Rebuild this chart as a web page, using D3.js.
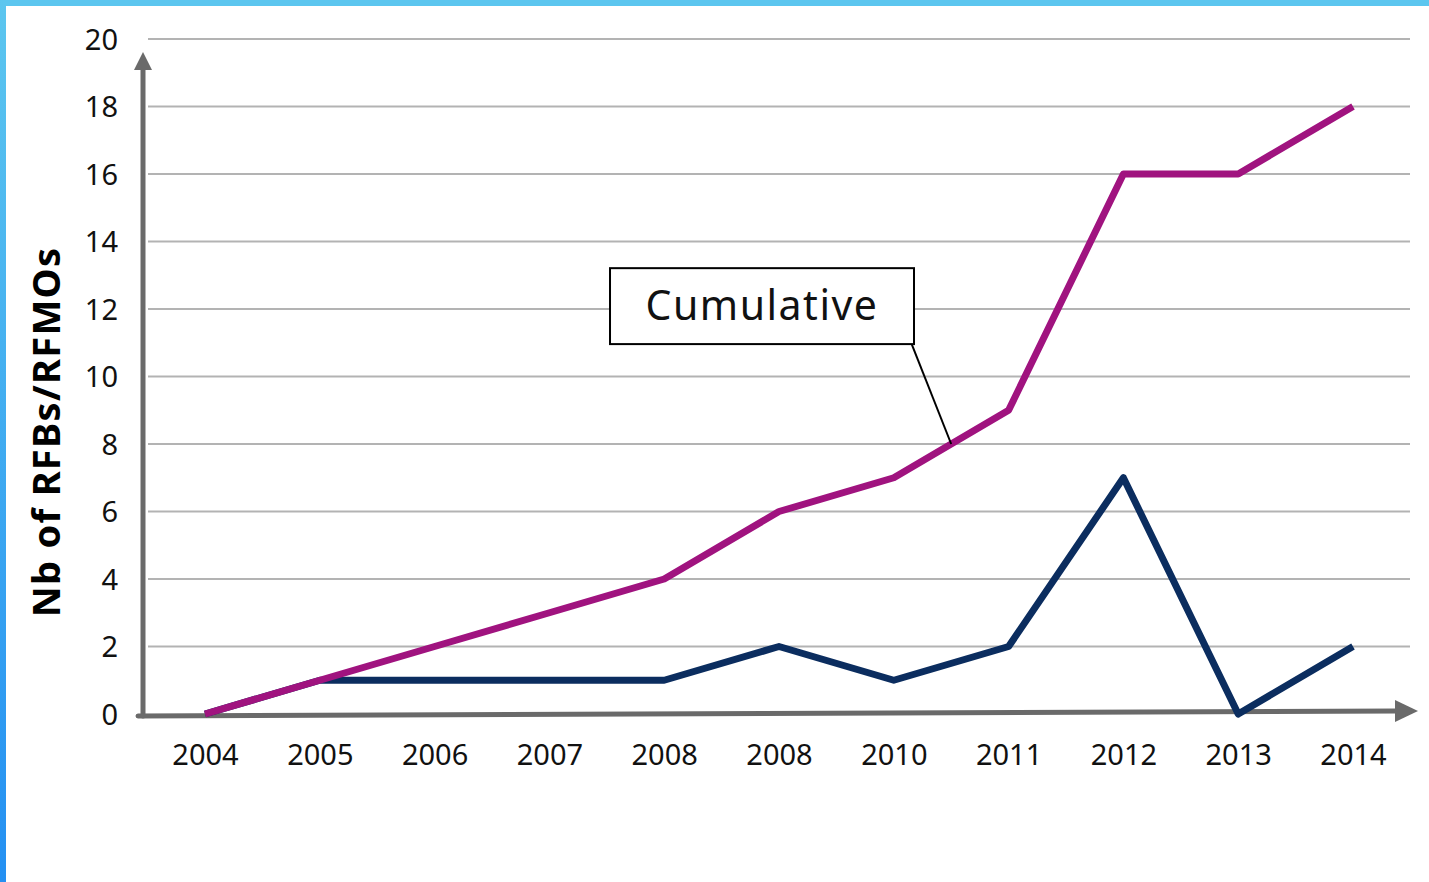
<!DOCTYPE html>
<html><head><meta charset="utf-8">
<script src="https://cdn.jsdelivr.net/npm/d3@7"></script>
<style>
html,body{margin:0;padding:0;background:#fff;}
svg{display:block;}
</style></head>
<body>
<script>
const categories = ["2004","2005","2006","2007","2008","2008","2010","2011","2012","2013","2014"];
const cumulative = [0,1,2,3,4,6,7,9,16,16,18];
const annual = [0,1,1,1,1,2,1,2,7,0,2];
const yTicks = [0,2,4,6,8,10,12,14,16,18,20];
const yTitle = "Nb of RFBs/RFMOs";
const annotationText = "Cumulative";

const W = 1429, H = 882;
const svg = d3.select("body").append("svg").attr("width", W).attr("height", H);
const defs = svg.append("defs");
const lg = defs.append("linearGradient").attr("id","lb").attr("x1",0).attr("y1",0).attr("x2",0).attr("y2",1);
lg.append("stop").attr("offset","0").attr("stop-color","#5cc6ef");
lg.append("stop").attr("offset","1").attr("stop-color","#2490f2");

svg.append("rect").attr("x",0).attr("y",0).attr("width",W).attr("height",6).attr("fill","#5cc6ef");
svg.append("rect").attr("x",0).attr("y",0).attr("width",6).attr("height",H).attr("fill","url(#lb)");

const font = "'Noto Sans', 'DejaVu Sans', sans-serif";
const idx = d3.range(categories.length);
const x = d3.scalePoint().domain(idx).range([205, 1353]);
const xl = d3.scaleLinear().domain([0, categories.length-1]).range([205,1353]);
const y = d3.scaleLinear().domain([0,20]).range([714, 39]);

// gridlines
svg.append("g").selectAll("line").data(yTicks.filter(d=>d>0)).join("line")
  .attr("x1",148).attr("x2",1410).attr("y1",d=>y(d)).attr("y2",d=>y(d))
  .attr("stroke","#b3b3b3").attr("stroke-width",2);

// y tick labels
const yAxis = d3.axisLeft(y).tickValues(yTicks).tickSize(0).tickPadding(0);
const gy = svg.append("g").attr("transform","translate(118,0)").call(yAxis);
gy.select(".domain").remove();
gy.selectAll("text").attr("font-family",font).attr("font-size",29).attr("fill","#111").attr("dy","0.35em");

// x tick labels
const xAxis = d3.axisBottom(x).tickFormat(i=>categories[i]).tickSize(0).tickPadding(0);
const gx = svg.append("g").attr("transform","translate(0,755)").call(xAxis);
gx.select(".domain").remove();
gx.selectAll("text").attr("font-family",font).attr("font-size",29).attr("fill","#111").attr("dy","0.35em");

// axes lines with arrows
const axCol = "#5a5a5a";
const axG = svg.append("g").attr("opacity",0.9);
axG.append("line").attr("x1",143).attr("y1",716).attr("x2",143).attr("y2",66)
  .attr("stroke",axCol).attr("stroke-width",5).attr("stroke-linecap","round");
axG.append("path").attr("d","M143,52 L134,70 L152,70 Z").attr("fill",axCol);
axG.append("line").attr("x1",138).attr("y1",716).attr("x2",1398).attr("y2",711)
  .attr("stroke",axCol).attr("stroke-width",5).attr("stroke-linecap","round");
axG.append("path").attr("d","M1418,711 L1395,700 L1395,722 Z").attr("fill",axCol);

// lines
const line = d3.line().x((d,i)=>x(i)).y(d=>y(d));
svg.append("path").datum(annual).attr("d",line).attr("fill","none")
  .attr("stroke","#0b2d5f").attr("stroke-width",7).attr("stroke-linejoin","round");
svg.append("path").datum(cumulative).attr("d",line).attr("fill","none")
  .attr("stroke","#a0137f").attr("stroke-width",7).attr("stroke-linejoin","round");

// annotation
const ax = xl(6.5), ay = y(8);
const bx0 = xl(3.528), bx1 = xl(6.176), by0 = y(13.21), by1 = y(10.96);
svg.append("line").attr("x1",xl(6.124)).attr("y1",y(11.23)).attr("x2",ax).attr("y2",ay)
  .attr("stroke","#000").attr("stroke-width",2);
svg.append("rect").attr("x",bx0).attr("y",by0).attr("width",bx1-bx0).attr("height",by1-by0)
  .attr("fill","#fff").attr("stroke","#000").attr("stroke-width",2);
svg.append("text").attr("x",(bx0+bx1)/2).attr("y",(by0+by1)/2).attr("dy","0.35em")
  .attr("text-anchor","middle").attr("font-family",font).attr("font-size",41)
  .attr("letter-spacing",1.5).attr("fill","#111")
  .text(annotationText);

// y title
svg.append("text").attr("transform","translate(60,432) rotate(-90)")
  .attr("text-anchor","middle").attr("font-family",font).attr("font-weight","bold")
  .attr("font-size",38).attr("letter-spacing",1.3).attr("fill","#000").text(yTitle);
</script>
</body></html>
